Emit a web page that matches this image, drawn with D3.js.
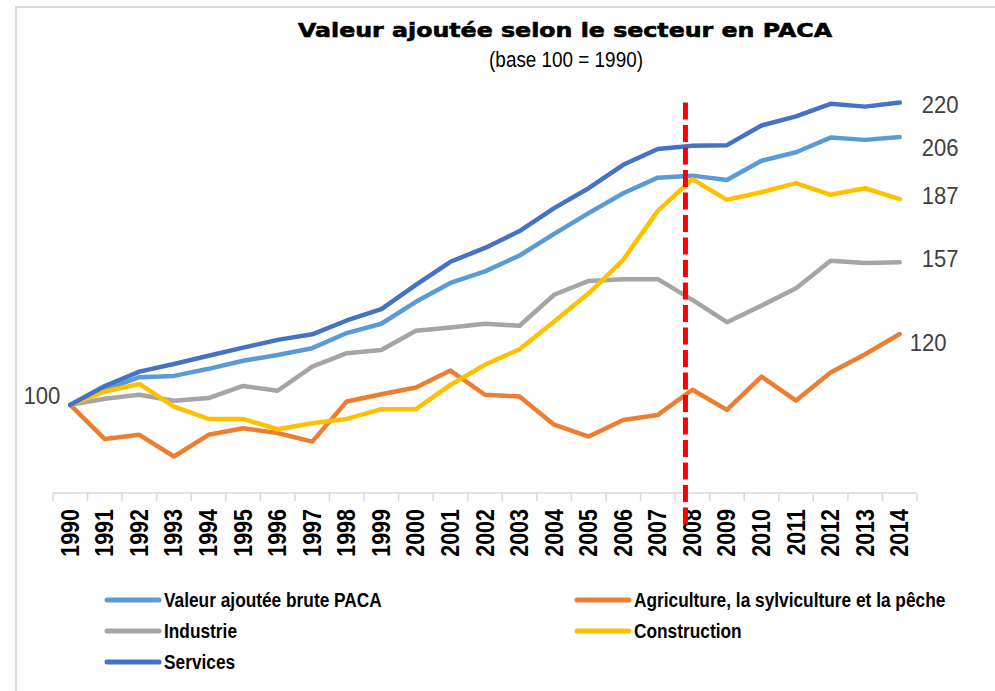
<!DOCTYPE html>
<html>
<head>
<meta charset="utf-8">
<script src="https://cdn.jsdelivr.net/npm/d3@7/dist/d3.min.js"></script>
<style>
  body { margin: 0; background: #fff; }
  svg { display: block; }
</style>
</head>
<body>
<div id="chart"></div>
<script>
// categories
var years = ["1990","1991","1992","1993","1994","1995","1996","1997","1998","1999","2000","2001","2002",
             "2003","2004","2005","2006","2007","2008","2009","2010","2011","2012","2013","2014"];

// series values (base 100 = 1990)
var vaBrute      = [100,106,111,111.5,114.3,117.5,119.8,122.5,128.5,132.2,140.9,148.4,153,159.3,167.9,176.1,184,190.2,191,189.3,196.9,200.3,206.1,205.2,206.3];
var agriculture  = [100,86.4,88.1,79.5,88.1,90.7,88.8,85.4,101.3,104.2,106.9,113.6,104,103.3,92.1,87.4,94,96,106,98,111.2,101.7,112.8,120.1,128.1];
var industrie    = [100,102.4,104,101.6,102.7,107.5,105.6,115.2,120.5,121.8,129.4,130.7,132.2,131.4,143.7,149.2,149.9,149.9,141.7,132.8,139.4,146.3,157.2,156.3,156.6];
var construction = [100,105.3,108.3,99.3,94.4,94.4,90.3,92.7,94.4,98.3,98.3,107.9,115.9,122.1,133.1,144.3,157.6,177,189.6,181.4,184.4,188,183.4,186,181.7];
var services     = [100,107.5,113.2,116.2,119.5,122.7,125.8,128,133.5,138,147.6,156.8,162.3,169,178.1,186,195.3,201.6,202.9,203.1,210.9,214.5,219.5,218.4,220];

var seriesNames = ["Valeur ajoutée brute PACA","Agriculture, la sylviculture et la pêche","Industrie","Construction","Services"];
var seriesColors = ["#5B9BD5","#ED7D31","#A5A5A5","#FFC000","#4472C4"];

// text labels typed on the chart
var endLabels = ["220","206","187","157","120"];
var endLabelAt = [219.5, 202.4, 183, 158, 125];
var startLabel = "100";
var crisisYear = 2007.8;   // dashed marker between 2007 and 2008
var crisisRange = [220, 51];

var width = 995, height = 691;
var narrow = 0.84; // no condensed font installed, squeeze Arial-like glyphs
var svg = d3.select("#chart").append("svg")
    .attr("width", width)
    .attr("height", height);

// outer frame
svg.append("rect")
    .attr("x", 16).attr("y", 7)
    .attr("width", 1000).attr("height", 700)
    .attr("fill", "none")
    .attr("stroke", "#d9d9d9")
    .attr("stroke-width", 2);

// title
svg.append("text")
    .attr("x", 565).attr("y", 37)
    .attr("text-anchor", "middle")
    .attr("textLength", 534)
    .attr("lengthAdjust", "spacingAndGlyphs")
    .attr("stroke", "#000")
    .attr("stroke-width", 0.6)
    .style("font-family", "'DejaVu Sans', sans-serif")
    .style("font-weight", "bold")
    .style("font-size", "19.5px")
    .text("Valeur ajoutée selon le secteur en PACA");

svg.append("text")
    .attr("transform", "translate(566,67) scale(" + narrow + ",1)")
    .attr("text-anchor", "middle")
    .style("font-family", "'Liberation Sans', Arial, sans-serif")
    .style("font-size", "22.5px")
    .text("(base 100 = 1990)");

var x = d3.scaleBand().domain(years).range([53, 917]).padding(0);
var y = d3.scaleLinear().domain([65, 225]).range([493, 90]);
var xc = function (i) { return x(years[i]) + x.bandwidth() / 2; };
var xYear = d3.scaleLinear().domain([+years[0], +years[years.length - 1]]).range([xc(0), xc(years.length - 1)]);

// x axis
var xAxis = svg.append("g")
    .attr("transform", "translate(0," + y(65) + ")");
xAxis.append("line")
    .attr("x1", x.range()[0]).attr("x2", x.range()[1])
    .attr("stroke", "#d9d9d9").attr("stroke-width", 1.5);
xAxis.selectAll(".tk")
    .data(years.concat(["end"]))
    .enter().append("line")
    .attr("class", "tk")
    .attr("x1", function (d, i) { return x.range()[0] + i * x.bandwidth(); })
    .attr("x2", function (d, i) { return x.range()[0] + i * x.bandwidth(); })
    .attr("y1", 0).attr("y2", 8)
    .attr("stroke", "#d9d9d9").attr("stroke-width", 1.5);
xAxis.selectAll(".yl")
    .data(years)
    .enter().append("text")
    .attr("class", "yl")
    .attr("transform", function (d, i) { return "translate(" + (xc(i) + 8.5) + ",16) rotate(-90) scale(0.86,1)"; })
    .attr("text-anchor", "end")
    .style("font-family", "'Liberation Sans', Arial, sans-serif")
    .style("font-weight", "bold")
    .style("font-size", "25px")
    .text(function (d) { return d; });

// series lines
var allSeries = [vaBrute, agriculture, industrie, construction, services];
var line = d3.line()
    .x(function (d, i) { return xc(i); })
    .y(function (d) { return y(d); });

svg.selectAll(".serie")
    .data(allSeries)
    .enter().append("path")
    .attr("class", "serie")
    .attr("fill", "none")
    .attr("stroke", function (d, i) { return seriesColors[i]; })
    .attr("stroke-width", 4.5)
    .attr("stroke-linejoin", "round")
    .attr("stroke-linecap", "round")
    .attr("d", line);

// crisis marker
svg.append("line")
    .attr("x1", xYear(crisisYear)).attr("x2", xYear(crisisYear))
    .attr("y1", y(crisisRange[0])).attr("y2", y(crisisRange[1]))
    .attr("stroke", "#FF0000")
    .attr("stroke-width", 5)
    .attr("stroke-dasharray", "17,5.5");

// value labels
svg.selectAll(".endl")
    .data(endLabels)
    .enter().append("text")
    .attr("class", "endl")
    .attr("transform", function (d, i) {
        return "translate(" + (xc(years.length - 1) + (i == 4 ? 10 : 22)) + "," + y(endLabelAt[i]) + ") scale(0.92,1)";
    })
    .attr("dy", "0.36em")
    .attr("fill", "#404040")
    .style("font-family", "'Liberation Sans', Arial, sans-serif")
    .style("font-size", "24px")
    .text(function (d) { return d; });

svg.append("text")
    .attr("transform", "translate(" + (xc(0) - 10) + "," + (y(vaBrute[0]) - 9) + ") scale(0.92,1)")
    .attr("dy", "0.36em")
    .attr("text-anchor", "end")
    .attr("fill", "#404040")
    .style("font-family", "'Liberation Sans', Arial, sans-serif")
    .style("font-size", "24px")
    .text(startLabel);

// legend
var legendPos = [[105, 600], [575, 600], [105, 631], [575, 631], [105, 662]];
var legend = svg.selectAll(".leg")
    .data(seriesNames)
    .enter().append("g")
    .attr("class", "leg")
    .attr("transform", function (d, i) { return "translate(" + legendPos[i][0] + "," + legendPos[i][1] + ")"; });
legend.append("line")
    .attr("x1", 2).attr("x2", 54)
    .attr("stroke", function (d, i) { return seriesColors[i]; })
    .attr("stroke-width", 5)
    .attr("stroke-linecap", "round");
legend.append("text")
    .attr("transform", "translate(59,0) scale(0.865,1)")
    .attr("dy", "0.36em")
    .style("font-family", "'Liberation Sans', Arial, sans-serif")
    .style("font-weight", "bold")
    .style("font-size", "20px")
    .text(function (d) { return d; });
</script>
</body>
</html>
